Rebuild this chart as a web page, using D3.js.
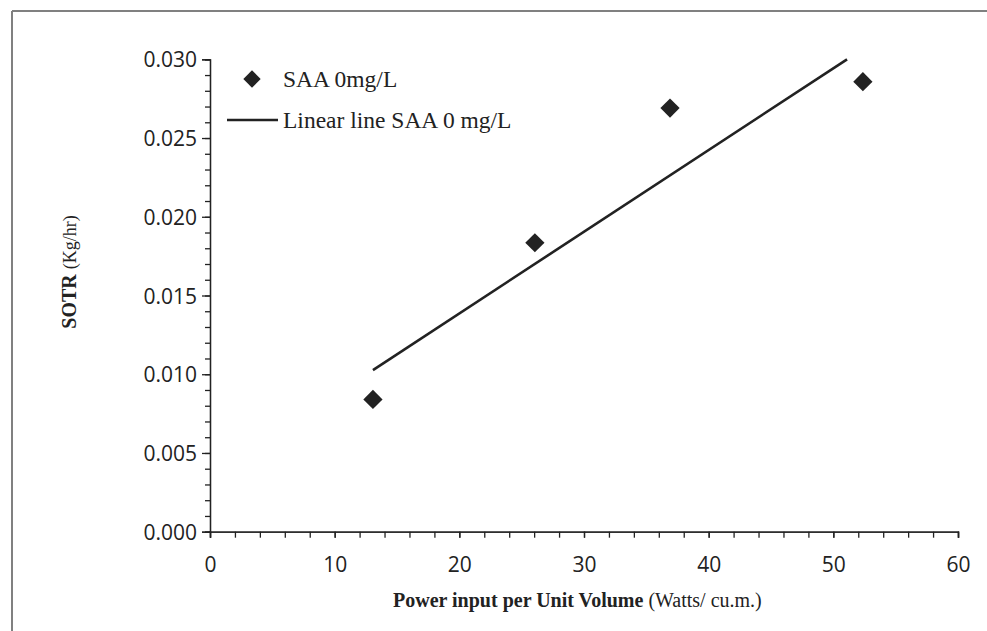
<!DOCTYPE html>
<html>
<head>
<meta charset="utf-8">
<script src="https://cdn.jsdelivr.net/npm/d3@7"></script>
<style>
  html, body { margin: 0; padding: 0; background: #fff; }
  svg { display: block; }
</style>
</head>
<body>
<svg id="chart" width="987" height="631"></svg>
<script>
// Power input per unit volume (Watts/cu.m.) and measured SOTR (kg/hr)
const powerInput = [13.07, 26.06, 36.9, 52.37];
const sotr = [0.0084, 0.01835, 0.0269, 0.02858];

// linear trend line SOTR = slope * power + intercept
const trendSlope = [0.000519];
const trendIntercept = [0.00348];

const xTicks = [0, 10, 20, 30, 40, 50, 60];
const yTicks = [0.000, 0.005, 0.010, 0.015, 0.020, 0.025, 0.030];
const xMinorTicks = d3.range(0, 60.001, 2);
const yMinorTicks = d3.range(0, 0.03001, 0.001);

const legendLabels = ["SAA 0mg/L", "Linear line SAA 0 mg/L"];

const svg = d3.select("#chart");
const ink = "#222";
const serif = "'Liberation Serif', 'Times New Roman', serif";

// page frame (top and left rules)
svg.append("line").attr("x1", 12).attr("x2", 987).attr("y1", 11).attr("y2", 11)
  .attr("stroke", "#808080").attr("stroke-width", 2);
svg.append("line").attr("x1", 12).attr("x2", 12).attr("y1", 11).attr("y2", 631)
  .attr("stroke", "#808080").attr("stroke-width", 2);

const x = d3.scaleLinear().domain([0, 60]).range([210, 958]);
const y = d3.scaleLinear().domain([0, 0.030]).range([531.7, 59.3]);

const tickFont = "'Open Sans', sans-serif";

// y axis: minor ticks, major ticks and labels
const yAxisG = svg.append("g").attr("transform", `translate(${x(0)},0)`);
yAxisG.call(d3.axisLeft(y).tickValues(yMinorTicks).tickSize(5).tickFormat(""));
yAxisG.append("g").call(d3.axisLeft(y).tickValues(yTicks).tickSize(8).tickPadding(5)
  .tickFormat(d3.format(".3f")));
yAxisG.selectAll("path.domain").attr("stroke", ink).attr("stroke-width", 1.3);
yAxisG.selectAll("line").attr("stroke", ink).attr("stroke-width", 1.3);
yAxisG.selectAll("text").attr("fill", ink).style("font-family", tickFont)
  .style("font-size", "21px").attr("dy", "0.36em");

// x axis
const xAxisG = svg.append("g").attr("transform", `translate(0,${y(0)})`);
xAxisG.call(d3.axisBottom(x).tickValues(xMinorTicks).tickSize(6).tickFormat(""));
xAxisG.append("g").call(d3.axisBottom(x).tickValues(xTicks).tickSize(6).tickPadding(19)
  .tickFormat(d3.format("d")));
xAxisG.selectAll("path.domain").attr("stroke", ink).attr("stroke-width", 1.3);
xAxisG.selectAll("line").attr("stroke", ink).attr("stroke-width", 1.3);
xAxisG.selectAll("text").attr("fill", ink).style("font-family", tickFont)
  .style("font-size", "21px");

// trend line from the first measurement, clipped at the top of the plot
const slope = trendSlope[0], intercept = trendIntercept[0];
const x0 = d3.min(powerInput);
let x1 = d3.max(powerInput);
const yMax = y.domain()[1];
if (intercept + slope * x1 > yMax) x1 = (yMax - intercept) / slope;
const trend = [[x0, intercept + slope * x0], [x1, intercept + slope * x1]];

svg.append("path")
  .datum(trend)
  .attr("d", d3.line().x(d => x(d[0])).y(d => y(d[1])))
  .attr("fill", "none").attr("stroke", ink).attr("stroke-width", 2.6);

// measured points as diamonds
const diamond = d3.symbol().type(d3.symbolSquare).size(185);
svg.append("g").selectAll("path")
  .data(powerInput.map((v, i) => [v, sotr[i]]))
  .join("path")
  .attr("d", diamond)
  .attr("transform", d => `translate(${x(d[0])},${y(d[1])}) rotate(45)`)
  .attr("fill", ink);

// legend
const legend = svg.append("g").style("font-family", serif)
  .style("font-size", "23.5px").attr("fill", ink);
legend.append("path").attr("d", d3.symbol().type(d3.symbolSquare).size(150))
  .attr("transform", "translate(252,79) rotate(45)").attr("fill", ink);
legend.append("text").attr("x", 283).attr("y", 87).text(legendLabels[0]);
legend.append("line").attr("x1", 227).attr("x2", 278).attr("y1", 120).attr("y2", 120)
  .attr("stroke", ink).attr("stroke-width", 2.6);
legend.append("text").attr("x", 283).attr("y", 128).text(legendLabels[1]);

// axis titles
const xTitle = svg.append("text")
  .attr("x", 393).attr("y", 607).attr("text-anchor", "start")
  .style("font-family", serif)
  .style("font-size", "20px").attr("fill", ink);
xTitle.append("tspan").style("font-weight", "bold").text("Power input per Unit Volume ");
xTitle.append("tspan").text("(Watts/ cu.m.)");

const yTitle = svg.append("text")
  .attr("transform", "translate(76,272) rotate(-90)").attr("text-anchor", "middle")
  .style("font-family", serif)
  .attr("fill", ink);
yTitle.append("tspan").style("font-weight", "bold").style("font-size", "20px").text("SOTR ");
yTitle.append("tspan").style("font-size", "18px").text("(Kg/hr)");
</script>
</body>
</html>
